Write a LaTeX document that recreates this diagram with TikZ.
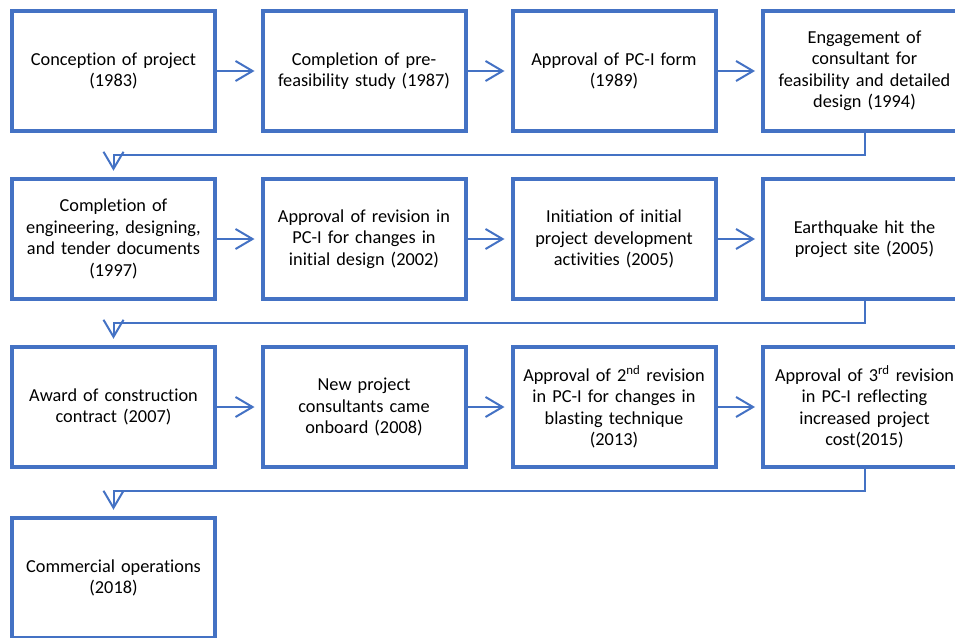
\documentclass[tikz,border=0pt]{standalone}
\usepackage{fontspec}
\setmainfont{Carlito}[Ligatures={NoCommon,NoContextual,NoRare}]
\usetikzlibrary{arrows.meta}
\definecolor{obl}{HTML}{4472C4}
\newcommand\tiq{t\kern0pt i}
\tikzset{
  stagebox/.style={draw=obl, line width=4pt, minimum width=203pt, minimum height=120.5pt,
    align=center, text width=190pt, font=\fontsize{18.3pt}{21.5pt}\selectfont, inner sep=0pt},
  conn/.style={draw=obl, line width=2pt, -{Straight Barb[length=17pt,width=20pt,line width=2pt]}, shorten >=6pt},
}
\begin{document}
\begin{tikzpicture}[x=1pt,y=-1pt]
\useasboundingbox (0,0) rectangle (955,637);
\clip (0,0) rectangle (955,637);
% row 1
\node[stagebox] (b1) at (113.5,71) {Concep\tiq on of project\\(1983)};
\node[stagebox] (b2) at (364,71) {Comple\tiq on of pre-\\feasibility study (1987)};
\node[stagebox] (b3) at (614,71) {Approval of PC-I form\\(1989)};
\node[stagebox] (b4) at (864.5,71) {Engagement of\\consultant for\\feasibility and detailed\\design (1994)};
% row 2
\node[stagebox] (b5) at (113.5,239) {Comple\tiq on of\\engineering, designing,\\and tender documents\\(1997)};
\node[stagebox] (b6) at (364,239) {Approval of revision in\\PC-I for changes in\\initial design (2002)};
\node[stagebox] (b7) at (614,239) {Initia\tiq on of initial\\project development\\ac\tiq vi\tiq es (2005)};
\node[stagebox] (b8) at (864.5,239) {Earthquake hit the\\project site (2005)};
% row 3
\node[stagebox] (b9) at (113.5,407) {Award of construc\tiq on\\contract (2007)};
\node[stagebox] (b10) at (364,407) {New project\\consultants came\\onboard (2008)};
\node[stagebox] (b11) at (614,407) {Approval of 2\textsuperscript{nd} revision\\in PC-I for changes in\\blas\tiq ng technique\\(2013)};
\node[stagebox] (b12) at (864.5,407) {Approval of 3\textsuperscript{rd} revision\\in PC-I reflec\tiq ng\\increased project\\cost(2015)};
% row 4
\node[stagebox] (b13) at (113.5,578) {Commercial opera\tiq ons\\(2018)};
% horizontal arrows
\foreach \a/\b in {b1/b2,b2/b3,b3/b4,b5/b6,b6/b7,b7/b8,b9/b10,b10/b11,b11/b12}
  \draw[conn] (\a.east) -- (\b.west);
% elbow connectors
\draw[conn] (b4.south) -- ++(0,22) -| (b5.north);
\draw[conn] (b8.south) -- ++(0,22) -| (b9.north);
\draw[conn] (b12.south) -- ++(0,22) -| (b13.north);
\end{tikzpicture}
\end{document}
